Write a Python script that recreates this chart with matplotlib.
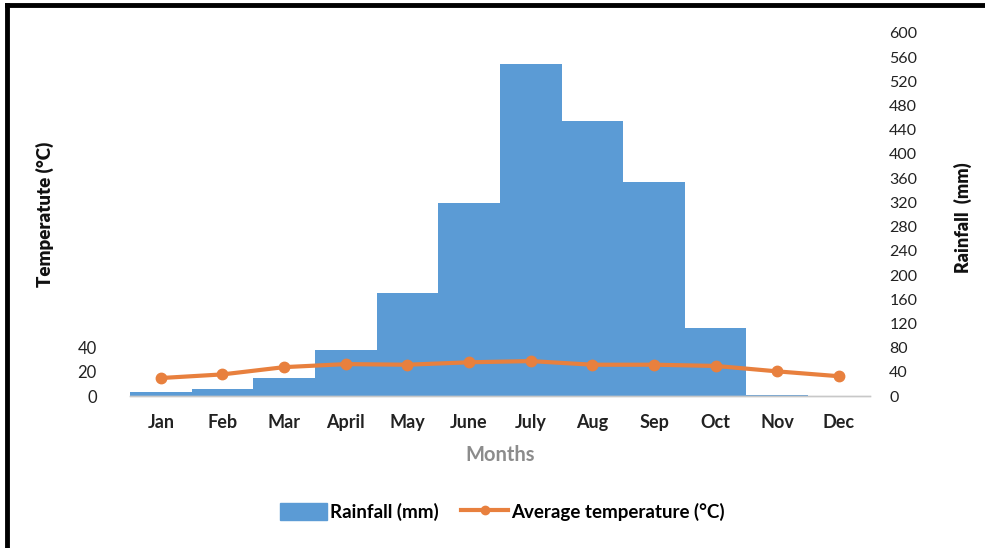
import matplotlib
matplotlib.use("Agg")
import matplotlib.pyplot as plt
from matplotlib.lines import Line2D

plt.rcParams['font.family'] = ['Lato', 'DejaVu Sans']

months = ["Jan", "Feb", "Mar", "April", "May", "June", "July", "Aug", "Sep", "Oct", "Nov", "Dec"]
rainfall = [7, 12, 30, 77, 171, 319, 548, 454, 354, 112, 2, 0.5]
temperature = [15, 18, 24, 26.5, 26, 28, 29, 26, 26, 25, 20.5, 16.5]

rain_ticks = list(range(0, 601, 40))
temp_ticks = [0, 20, 40]

bar_color = "#5B9BD5"
line_color = "#E8803E"

fig = plt.figure(figsize=(9.85, 5.48), dpi=100)
ax_r = fig.add_axes([0.132, 0.277, 0.751, 0.663])
ax_t = ax_r.twinx()

# barras de chuva no eixo direito
ax_r.bar(range(len(months)), rainfall, width=1.0, color=bar_color, zorder=2)
ax_r.set_ylim(0, 600)
ax_r.set_xlim(-0.5, len(months) - 0.5)
ax_r.yaxis.tick_right()
ax_r.set_yticks(rain_ticks)
ax_r.tick_params(axis='y', length=0, pad=14, labelsize=11.5, labelcolor="#222222")
ax_r.set_xticks(range(len(months)))
ax_r.set_xticklabels(months, fontweight='bold', fontsize=13, color="#222222")
ax_r.tick_params(axis='x', length=0, pad=13)
ax_r.set_xlabel("Months", color="#8c8c8c", fontweight='bold', fontsize=14.5, labelpad=10)

# temperatura no eixo esquerdo
ax_t.yaxis.tick_left()
ax_t.plot(range(len(months)), temperature, color=line_color, lw=3, marker='o',
          markersize=7.5, zorder=3)
ax_t.set_ylim(0, 300)
ax_t.set_yticks(temp_ticks)
ax_t.tick_params(axis='y', length=0, pad=24, labelsize=12, labelcolor="#222222")
ax_t.tick_params(axis='y', right=False, labelright=False)

for a in (ax_r, ax_t):
    for s in ["top", "left", "right"]:
        a.spines[s].set_visible(False)
    a.spines["bottom"].set_color("#c8c8c8")
    a.spines["bottom"].set_linewidth(1)

fig.text(0.046, 0.608, "Temperatute (°C)", rotation=90, ha='center', va='center',
         fontweight='heavy', fontsize=13.5, color="#111111")
fig.text(0.978, 0.602, "Rainfall  (mm)", rotation=90, ha='center', va='center',
         fontweight='heavy', fontsize=13, color="#111111")

handles = [plt.Rectangle((0, 0), 1, 1, color=bar_color),
           Line2D([], [], color=line_color, lw=3, marker='o', markersize=6)]
fig.legend(handles, ["Rainfall (mm)", "Average temperature (°C)"], loc='center',
           bbox_to_anchor=(0.51, 0.066), ncol=2, frameon=False, fontsize=13.5,
           handlelength=2.5, handleheight=1.0, handletextpad=0.15, columnspacing=1.2,
           prop={'weight': 'bold', 'size': 13.5})

# moldura preta (topo e esquerda)
fig.add_artist(Line2D([0.007, 1.0], [0.990, 0.990], color='black', lw=3.5,
                      transform=fig.transFigure))
fig.add_artist(Line2D([0.007, 0.007], [0.0, 0.990], color='black', lw=3.5,
                      transform=fig.transFigure))

fig.savefig("out.png", dpi=100)
